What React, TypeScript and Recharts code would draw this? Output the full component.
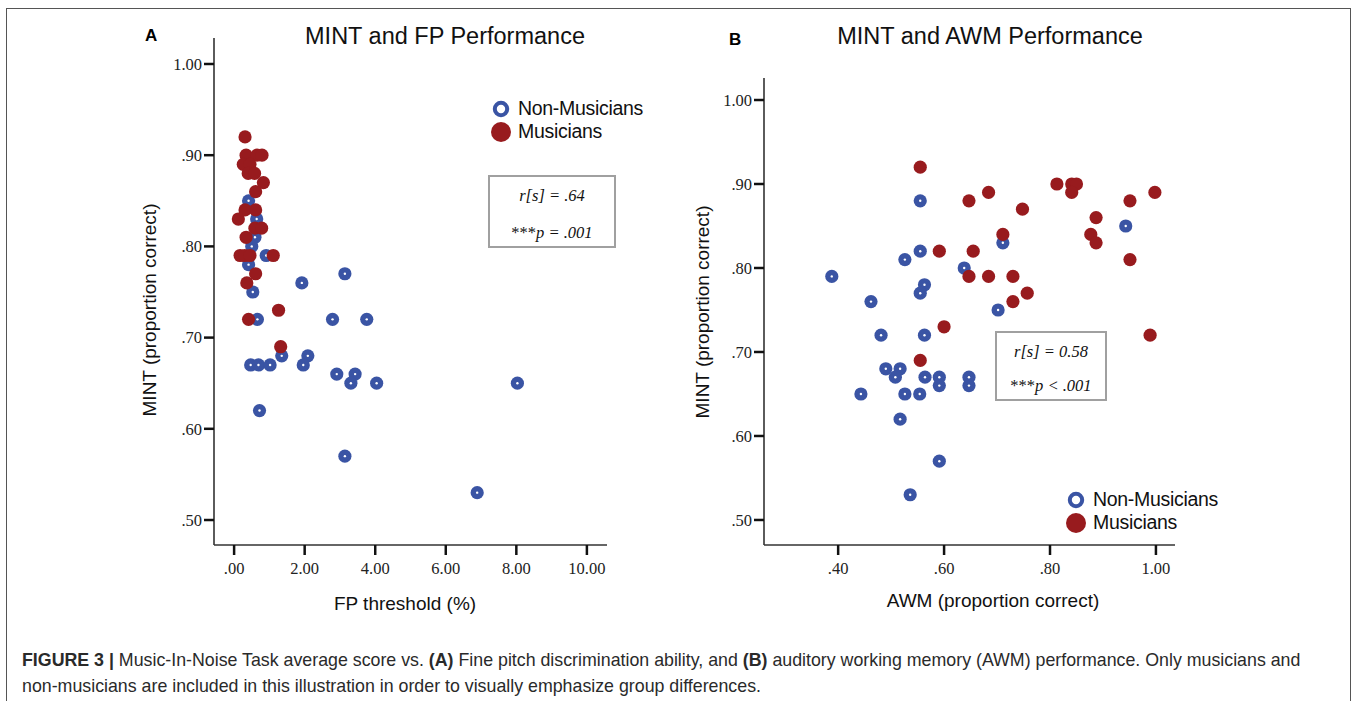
import React from "react";
import { ScatterChart, Scatter, XAxis, YAxis } from "recharts";

// ---------- Data ----------
// Panel A: FP threshold (%) vs MINT (proportion correct)
const aNonMusFP = [0.41, 0.64, 0.59, 0.5, 0.91, 0.41, 0.53, 0.66, 1.92, 2.79, 3.14, 3.76, 1.35, 2.09, 0.47, 0.69, 1.02, 1.96, 2.91, 3.43, 3.31, 4.04, 0.72, 3.14, 8.03, 6.89];
const aNonMusMINT = [0.85, 0.83, 0.81, 0.8, 0.79, 0.78, 0.75, 0.72, 0.76, 0.72, 0.77, 0.72, 0.68, 0.68, 0.67, 0.67, 0.67, 0.67, 0.66, 0.66, 0.65, 0.65, 0.62, 0.57, 0.65, 0.53];
const aMusFP = [0.31, 0.34, 0.65, 0.79, 0.26, 0.45, 0.4, 0.58, 0.83, 0.61, 0.31, 0.61, 0.12, 0.59, 0.78, 0.34, 0.17, 0.3, 0.45, 1.11, 0.61, 0.36, 1.26, 0.41, 1.32];
const aMusMINT = [0.92, 0.9, 0.9, 0.9, 0.89, 0.89, 0.88, 0.88, 0.87, 0.86, 0.84, 0.84, 0.83, 0.82, 0.82, 0.81, 0.79, 0.79, 0.79, 0.79, 0.77, 0.76, 0.73, 0.72, 0.69];

// Panel B: AWM (proportion correct) vs MINT (proportion correct)
const bNonMusAWM = [0.555, 0.943, 0.711, 0.555, 0.526, 0.388, 0.638, 0.563, 0.555, 0.462, 0.702, 0.481, 0.563, 0.49, 0.517, 0.508, 0.564, 0.591, 0.591, 0.647, 0.647, 0.443, 0.526, 0.554, 0.517, 0.591, 0.536];
const bNonMusMINT = [0.88, 0.85, 0.83, 0.82, 0.81, 0.79, 0.8, 0.78, 0.77, 0.76, 0.75, 0.72, 0.72, 0.68, 0.68, 0.67, 0.67, 0.67, 0.66, 0.67, 0.66, 0.65, 0.65, 0.65, 0.62, 0.57, 0.53];
const bMusAWM = [0.555, 0.813, 0.841, 0.85, 0.841, 0.684, 0.647, 0.998, 0.951, 0.748, 0.887, 0.877, 0.887, 0.711, 0.951, 0.591, 0.655, 0.647, 0.684, 0.73, 0.757, 0.73, 0.6, 0.989, 0.555];
const bMusMINT = [0.92, 0.9, 0.9, 0.9, 0.89, 0.89, 0.88, 0.89, 0.88, 0.87, 0.86, 0.84, 0.83, 0.84, 0.81, 0.82, 0.82, 0.79, 0.79, 0.79, 0.77, 0.76, 0.73, 0.72, 0.69];

const mintTicks = [0.5, 0.6, 0.7, 0.8, 0.9, 1.0];
const fpTicks = [0, 2, 4, 6, 8, 10];
const awmTicks = [0.4, 0.6, 0.8, 1.0];

const titleA = "MINT and FP Performance";
const titleB = "MINT and AWM Performance";
const yLabel = "MINT (proportion correct)";
const xLabelA = "FP threshold (%)";
const xLabelB = "AWM (proportion correct)";
const legendNames = ["Non-Musicians", "Musicians"];

// ---------- helpers ----------
const BLUE = "#3a54a4";
const RED = "#981b1e";
const SANS = "'Liberation Sans', Arial, Helvetica, sans-serif";
const SERIF = "'Liberation Serif', 'Times New Roman', serif";
const TICK_FONT = 16.5;

const zip = (xs: number[], ys: number[]) => xs.map((x, i) => ({ x, y: ys[i] }));

const fmtDec = (v: number) => {
  const s = Number(v).toFixed(2);
  return s.startsWith("0") ? s.slice(1) : s;
};

const BlueDot = (props: any) => {
  const { cx, cy } = props;
  if (cx == null || cy == null) return null;
  return (
    <g>
      <circle cx={cx} cy={cy} r={6.6} fill={BLUE} />
      <circle cx={cx} cy={cy} r={1.2} fill="#fff" />
    </g>
  );
};
const RedDot = (props: any) => {
  const { cx, cy } = props;
  if (cx == null || cy == null) return null;
  return <circle cx={cx} cy={cy} r={6.6} fill={RED} />;
};

const XTick = (props: any) => {
  const { x, y, payload } = props;
  return (
    <text x={x} y={y} dy="0.75em" textAnchor="middle" fontFamily={SERIF} fontSize={TICK_FONT} fill="#222">
      {fmtDec(payload.value)}
    </text>
  );
};
const YTick = (props: any) => {
  const { x, y, payload } = props;
  return (
    <text x={x} y={y} dy="0.35em" textAnchor="end" fontFamily={SERIF} fontSize={TICK_FONT} fill="#222">
      {fmtDec(payload.value)}
    </text>
  );
};

const tickLineStyle = { stroke: "#111", strokeWidth: 2.5 };
const axisLineStyle = { stroke: "#333", strokeWidth: 1.6 };

const abs = (l: number, t: number, extra: any = {}) => ({ position: "absolute" as const, left: l, top: t, ...extra });

const Legend = ({ left, top }: { left: number; top: number }) => (
  <div style={abs(left, top, { fontFamily: SANS, fontSize: 19.5, color: "#111", lineHeight: "23px", letterSpacing: -0.3 })}>
    <div style={{ display: "flex", alignItems: "center" }}>
      <svg width={22} height={22} style={{ marginRight: 6 }}>
        <circle cx={11} cy={11} r={6.2} fill="none" stroke={BLUE} strokeWidth={4} />
      </svg>
      <span>{legendNames[0]}</span>
    </div>
    <div style={{ display: "flex", alignItems: "center" }}>
      <svg width={22} height={22} style={{ marginRight: 6 }}>
        <circle cx={11} cy={11} r={10} fill={RED} />
      </svg>
      <span>{legendNames[1]}</span>
    </div>
  </div>
);

const StatBox = ({ left, top, w, h, r, p, gap }: any) => (
  <div
    style={abs(left, top, {
      width: w,
      height: h,
      boxSizing: "border-box",
      border: "2px solid #a0a0a0",
      fontFamily: SERIF,
      fontSize: 16.5,
      fontStyle: "italic",
      color: "#111",
      textAlign: "center",
    })}
  >
    <div style={{ marginTop: 9, lineHeight: "20px" }}>{r}</div>
    <div style={{ marginTop: gap, lineHeight: "20px" }}>
      <span style={{ fontStyle: "normal" }}>***</span>
      {p}
    </div>
  </div>
);

export default function App() {
  const aNon = zip(aNonMusFP, aNonMusMINT);
  const aMus = zip(aMusFP, aMusMINT);
  const bNon = zip(bNonMusAWM, bNonMusMINT);
  const bMus = zip(bMusAWM, bMusMINT);

  return (
    <div style={{ position: "absolute", left: 0, top: 0, width: 1357, height: 701, background: "#fff", overflow: "hidden" }}>
      {/* frame */}
      <div style={abs(6, 8, { width: 1345, height: 700, border: "1.5px solid #555", boxSizing: "border-box" })} />

      {/* Panel A chart */}
      <div style={abs(0, 0)}>
        <ScatterChart width={680} height={640} margin={{ top: 38, right: 73, bottom: 35, left: 154 }}>
          <XAxis
            type="number"
            dataKey="x"
            domain={[-0.57, 10.57]}
            ticks={fpTicks}
            allowDataOverflow
            height={60}
            tick={XTick}
            tickLine={tickLineStyle}
            axisLine={axisLineStyle}
            tickSize={10}
            tickMargin={7}
            interval={0}
          />
          <YAxis
            type="number"
            dataKey="y"
            domain={[0.4726, 1.0285]}
            ticks={mintTicks}
            allowDataOverflow
            width={60}
            tick={YTick}
            tickLine={tickLineStyle}
            axisLine={axisLineStyle}
            tickSize={10}
            tickMargin={2}
            interval={0}
          />
          <Scatter data={aNon} shape={BlueDot} isAnimationActive={false} />
          <Scatter data={aMus} shape={RedDot} isAnimationActive={false} />
        </ScatterChart>
      </div>

      {/* Panel B chart */}
      <div style={abs(680, 0)}>
        <ScatterChart width={677} height={640} margin={{ top: 78, right: 182, bottom: 35, left: 24 }}>
          <XAxis
            type="number"
            dataKey="x"
            domain={[0.26, 1.036]}
            ticks={awmTicks}
            allowDataOverflow
            height={60}
            tick={XTick}
            tickLine={tickLineStyle}
            axisLine={axisLineStyle}
            tickSize={10}
            tickMargin={7}
            interval={0}
          />
          <YAxis
            type="number"
            dataKey="y"
            domain={[0.4702, 1.0262]}
            ticks={mintTicks}
            allowDataOverflow
            width={60}
            tick={YTick}
            tickLine={tickLineStyle}
            axisLine={axisLineStyle}
            tickSize={10}
            tickMargin={2}
            interval={0}
          />
          <Scatter data={bNon} shape={BlueDot} isAnimationActive={false} />
          <Scatter data={bMus} shape={RedDot} isAnimationActive={false} />
        </ScatterChart>
      </div>

      {/* Panel letters and titles */}
      <div style={abs(145, 26, { fontFamily: SANS, fontWeight: "bold", fontSize: 17, lineHeight: "20px" })}>A</div>
      <div style={abs(729, 30, { fontFamily: SANS, fontWeight: "bold", fontSize: 17, lineHeight: "20px" })}>B</div>
      <div style={abs(445, 36, { transform: "translate(-50%, -50%)", fontFamily: SANS, fontSize: 23.5, whiteSpace: "nowrap", color: "#111" })}>{titleA}</div>
      <div style={abs(990, 36, { transform: "translate(-50%, -50%)", fontFamily: SANS, fontSize: 23.5, whiteSpace: "nowrap", color: "#111" })}>{titleB}</div>

      {/* Axis labels */}
      <div style={abs(150, 310, { transform: "translate(-50%, -50%) rotate(-90deg)", fontFamily: SANS, fontSize: 19, whiteSpace: "nowrap", color: "#111" })}>{yLabel}</div>
      <div style={abs(703, 312, { transform: "translate(-50%, -50%) rotate(-90deg)", fontFamily: SANS, fontSize: 19, whiteSpace: "nowrap", color: "#111" })}>{yLabel}</div>
      <div style={abs(405, 604, { transform: "translate(-50%, -50%)", fontFamily: SANS, fontSize: 19, whiteSpace: "nowrap", color: "#111" })}>{xLabelA}</div>
      <div style={abs(993, 601, { transform: "translate(-50%, -50%)", fontFamily: SANS, fontSize: 19, whiteSpace: "nowrap", color: "#111" })}>{xLabelB}</div>

      {/* Legends */}
      <Legend left={490} top={97} />
      <Legend left={1065} top={488} />

      {/* Stat boxes */}
      <StatBox left={488} top={175} w={128} h={73} r="r[s] = .64" p="p = .001" gap={17} />
      <StatBox left={995} top={331} w={112} h={70} r="r[s] = 0.58" p="p < .001" gap={14} />

      {/* Caption */}
      <div style={abs(22, 647, { width: 1330, fontFamily: SANS, fontSize: 17.8, lineHeight: "26px", color: "#2a2a2a", whiteSpace: "nowrap" })}>
        <b>FIGURE 3 |</b> Music-In-Noise Task average score vs. <b>(A)</b> Fine pitch discrimination ability, and <b>(B)</b> auditory working memory (AWM) performance. Only musicians and
        <br />
        non-musicians are included in this illustration in order to visually emphasize group differences.
      </div>
    </div>
  );
}
